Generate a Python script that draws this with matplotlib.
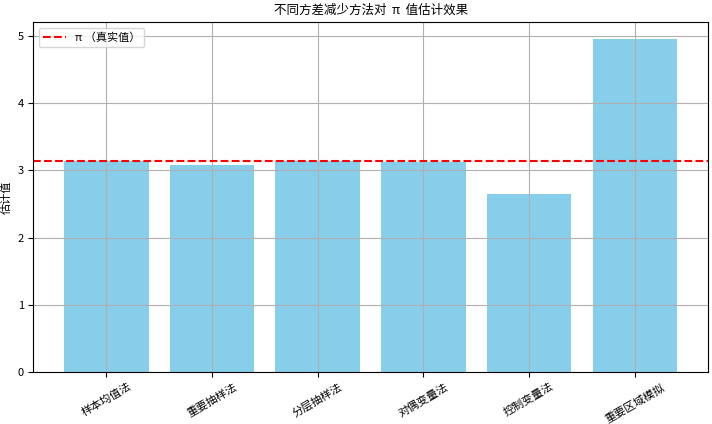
import numpy as np
import matplotlib
matplotlib.use("Agg")
import matplotlib.pyplot as plt

plt.rcParams['font.family'] = ['Noto Sans CJK SC', 'DejaVu Sans']
plt.rcParams['axes.unicode_minus'] = False

methods = ['样本均值法', '重要抽样法', '分层抽样法', '对偶变量法', '控制变量法', '重要区域模拟']
estimates = [3.141, 3.08, 3.142, 3.125, 2.65, 4.96]
true_pi = np.pi

fig, ax = plt.subplots(figsize=(7.12, 4.24), dpi=100)
ax.bar(methods, estimates, color='skyblue')
ax.axhline(true_pi, color='red', linestyle='--', label='π （真实值）')
ax.set_title('不同方差减少方法对  π  值估计效果', fontsize=9)
ax.set_ylabel('估计值', fontsize=8)
ax.legend(loc='upper left', fontsize=8)
ax.grid(True)
plt.xticks(rotation=30, fontsize=8)
plt.yticks(fontsize=8)
fig.subplots_adjust(left=0.047, right=0.994, bottom=0.123, top=0.948)
fig.savefig('out.png', dpi=100)
